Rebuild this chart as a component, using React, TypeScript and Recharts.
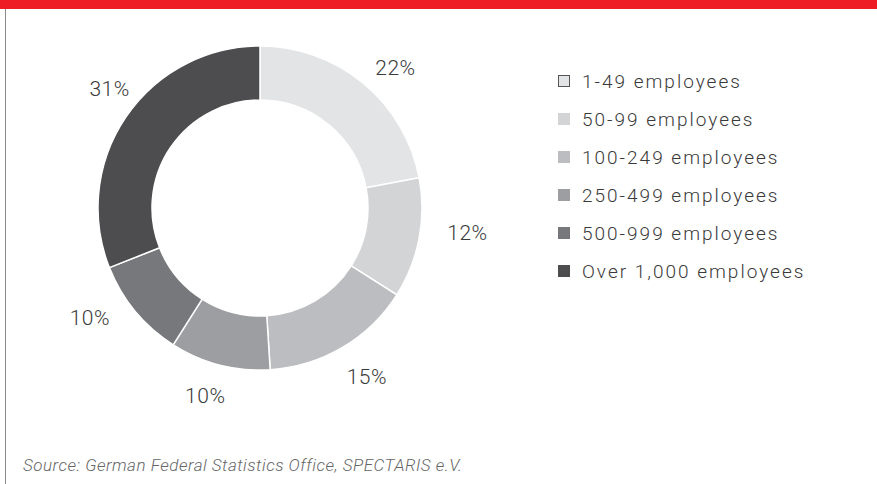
import { PieChart, Pie, Cell, Legend } from "recharts";

const categories = [
  "1-49 employees",
  "50-99 employees",
  "100-249 employees",
  "250-499 employees",
  "500-999 employees",
  "Over 1,000 employees",
];
const shares = [22, 12, 15, 10, 10, 31];
const colors = ["#e3e4e5", "#d3d4d6", "#bcbdc0", "#9d9ea1", "#77787b", "#4d4d4f"];

// small hand placement tweaks for the outside % labels (px)
const labelNudge = [
  [8, 14],
  [11, -12],
  [5, -3],
  [-5, -6],
  [-16, -17],
  [15, -7],
];

const data = categories.map((name, i) => ({ name, value: shares[i] }));

const RAD = Math.PI / 180;
const FONT = "Roboto, 'DejaVu Sans', sans-serif";

function renderLabel(props: any) {
  const { cx, cy, midAngle, value, index } = props;
  const r = 200;
  const [dx, dy] = labelNudge[index] || [0, 0];
  const x = cx + r * Math.cos(-midAngle * RAD) + dx;
  const y = cy + r * Math.sin(-midAngle * RAD) + dy;
  return (
    <text
      x={x}
      y={y}
      textAnchor="middle"
      dominantBaseline="central"
      fill="#3a3a3a"
      fontSize={21}
      fontWeight={300}
      letterSpacing={0.5}
      fontFamily={FONT}
    >
      {value}%
    </text>
  );
}

function renderLegend() {
  return (
    <div style={{ fontFamily: FONT }}>
      {data.map((d, i) => (
        <div
          key={d.name}
          style={{ display: "flex", alignItems: "center", height: 38 }}
        >
          <span
            style={{
              width: 12,
              height: 12,
              boxSizing: "border-box",
              background: colors[i],
              border: i === 0 ? "1px solid #555" : "none",
              marginRight: 12,
            }}
          />
          <span
            style={{
              fontSize: 19,
              fontWeight: 300,
              letterSpacing: 2,
              color: "#3a3a3a",
            }}
          >
            {d.name}
          </span>
        </div>
      ))}
    </div>
  );
}

export default function App() {
  return (
    <div
      style={{
        position: "absolute",
        left: 0,
        top: 0,
        width: 877,
        height: 484,
        background: "#fff",
        overflow: "hidden",
      }}
    >
      {/* red header band */}
      <div style={{ position: "absolute", left: 0, top: 0, width: 877, height: 9, background: "#ee1c25" }} />
      {/* left rule */}
      <div style={{ position: "absolute", left: 5, top: 9, width: 1, height: 475, background: "#8a8a8a" }} />

      <PieChart width={877} height={484}>
        <Pie
          data={data}
          dataKey="value"
          nameKey="name"
          cx={255}
          cy={203}
          innerRadius={108}
          outerRadius={162}
          startAngle={90}
          endAngle={-270}
          stroke="#fff"
          strokeWidth={1.5}
          label={renderLabel}
          labelLine={false}
          isAnimationActive={false}
        >
          {data.map((d, i) => (
            <Cell key={d.name} fill={colors[i]} />
          ))}
        </Pie>
        <Legend
          content={renderLegend}
          wrapperStyle={{ left: 558, top: 62, width: 310 }}
        />
      </PieChart>

      <div
        style={{
          position: "absolute",
          left: 23,
          top: 455,
          fontFamily: FONT,
          fontStyle: "italic",
          fontWeight: 300,
          fontSize: 17,
          letterSpacing: 0.5,
          color: "#666",
        }}
      >
        Source: German Federal Statistics Office, SPECTARIS e.V.
      </div>
    </div>
  );
}
